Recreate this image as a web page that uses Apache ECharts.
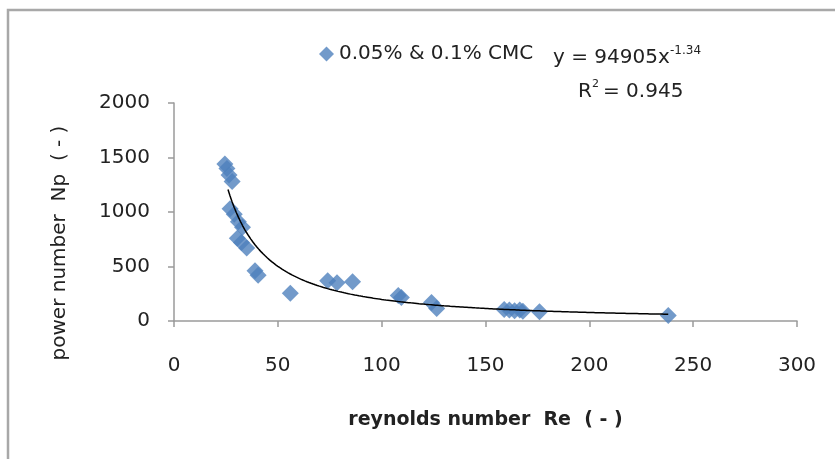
<!DOCTYPE html>
<html>
<head>
<meta charset="utf-8">
<script src="https://cdn.jsdelivr.net/npm/echarts@6/dist/echarts.min.js"></script>
<style>
	html, body { margin: 0; padding: 0; background: #fff; }
	#chart { width: 835px; height: 459px; }
</style>
</head>
<body>
<div id="chart"></div>
<script>
// Data
var reValues = [24.5, 25.5, 26.5, 28, 27, 29, 31, 33, 30.5, 32.5, 35, 39, 40.5, 56, 74, 78.5, 86, 108, 109.5, 124, 126.5, 159, 161.5, 164, 166.5, 168, 176, 238];
var npValues = [1440, 1400, 1340, 1280, 1030, 980, 910, 860, 760, 720, 670, 460, 420, 255, 370, 350, 360, 235, 215, 170, 115, 105, 100, 95, 100, 90, 85, 50];

// Trend line from the equation shown on the chart
var fitCoef = 94905;
var fitExp = -1.34;
var fitFrom = 26;
var fitTo = 238;

var xTicks = [0, 50, 100, 150, 200, 250, 300];
var yTicks = [0, 500, 1000, 1500, 2000];

function BuildTrend() {
	var pts = [];
	for (var x = fitFrom; x <= fitTo; x += 1) {
		pts.push([x, fitCoef * Math.pow(x, fitExp)]);
	}
	return pts;
}

function GenerateChart() {
	var chart = echarts.init(document.getElementById('chart'), null, {renderer: 'canvas'});
	var font = '"DejaVu Sans", sans-serif';

	chart.setOption({
		animation: false,
		textStyle: { fontFamily: font },
		grid: { left: 174, right: 38, top: 103, bottom: 138 },
		graphic: [
			{
				type: 'rect',
				shape: { x: 8, y: 10, width: 900, height: 600 },
				style: { fill: 'none', stroke: '#a8a8a8', lineWidth: 2.5 }
			},
			{
				type: 'text', left: 553, top: 48,
				style: { text: 'y = 94905x', font: '20px ' + font, fill: '#222' }
			},
			{
				type: 'text', left: 670, top: 45,
				style: { text: '-1.34', font: '12px ' + font, fill: '#222' }
			},
			{
				type: 'text', left: 578, top: 82,
				style: { text: 'R', font: '20px ' + font, fill: '#222' }
			},
			{
				type: 'text', left: 592, top: 79,
				style: { text: '2', font: '11px ' + font, fill: '#222' }
			},
			{
				type: 'text', left: 603, top: 82,
				style: { text: '= 0.945', font: '20px ' + font, fill: '#222' }
			},
			{
				// y axis title, placed a bit lower than the plot centre as in the reference
				type: 'text', x: 60, y: 243, rotation: Math.PI / 2,
				style: {
					text: 'power number  Np  ( - )', font: '20px ' + font, fill: '#222',
					align: 'center', verticalAlign: 'middle'
				}
			}
		],
		legend: {
			left: 314, top: 39,
			itemWidth: 15, itemHeight: 15, itemGap: 5,
			data: [{ name: '0.05% & 0.1% CMC', icon: 'diamond' }],
			textStyle: { fontSize: 20, color: '#222', fontFamily: font }
		},
		xAxis: {
			type: 'value',
			min: 0, max: 300, interval: 50,
			name: 'reynolds number  Re  ( - )',
			nameLocation: 'middle', nameGap: 90,
			nameTextStyle: { fontSize: 19, fontWeight: 'bold', color: '#222' },
			axisLine: { show: true, lineStyle: { color: '#9a9a9a', width: 1.5 } },
			axisTick: { show: true, inside: false, length: 6, lineStyle: { color: '#9a9a9a', width: 1.5 } },
			axisLabel: { fontSize: 20, color: '#222', margin: 35, formatter: function (v) { return String(v); } },
			splitLine: { show: false }
		},
		yAxis: {
			type: 'value',
			min: 0, max: 2000, interval: 500,
			axisLine: { show: true, lineStyle: { color: '#9a9a9a', width: 1.5 } },
			axisTick: { show: true, inside: false, length: 6, lineStyle: { color: '#9a9a9a', width: 1.5 } },
			axisLabel: { fontSize: 20, color: '#222', margin: 24, formatter: function (v) { return String(v); } },
			splitLine: { show: false }
		},
		series: [
			{
				name: '0.05% & 0.1% CMC',
				type: 'scatter',
				symbol: 'diamond',
				symbolSize: 17,
				itemStyle: { color: '#4f81bd' },
				data: reValues.map(function (re, i) { return [re, npValues[i]]; }),
				z: 2
			},
			{
				name: 'trend',
				type: 'line',
				showSymbol: false,
				symbol: 'none',
				smooth: false,
				lineStyle: { color: '#000', width: 1.5 },
				data: BuildTrend(),
				z: 3
			}
		]
	});
}

GenerateChart();
</script>
</body>
</html>
